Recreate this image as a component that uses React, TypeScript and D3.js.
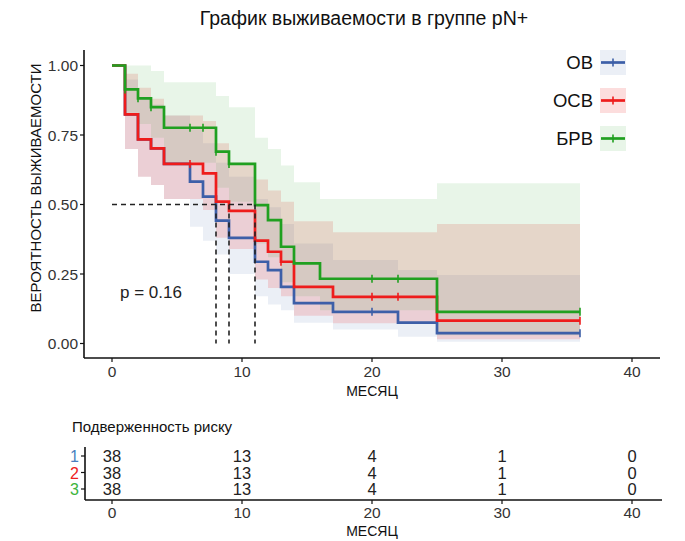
import React from 'react';
import * as d3 from 'd3';

// ---------- data ----------
const seriesNames = ['ОВ', 'ОСВ', 'БРВ'];
const seriesColors = ['#3D5FA8', '#EE1C1C', '#20A020'];
const rowLabelColors = ['#4A7FC0', '#EE2020', '#3CB43C'];

const ovTimes = [0, 1, 2, 3, 4, 6, 7, 8, 9, 11, 12, 13, 14, 17, 22, 25, 36];
const ovSurv = [1, 0.824, 0.734, 0.702, 0.646, 0.582, 0.528, 0.442, 0.38, 0.294, 0.264, 0.204, 0.145, 0.114, 0.075, 0.037, 0.037];
const ovUpper = [1, 0.95, 0.88, 0.86, 0.82, 0.77, 0.72, 0.65, 0.6, 0.52, 0.49, 0.43, 0.36, 0.3, 0.264, 0.246, 0.246];
const ovLower = [1, 0.7, 0.6, 0.57, 0.52, 0.42, 0.37, 0.32, 0.25, 0.17, 0.14, 0.12, 0.075, 0.05, 0.024, 0.006, 0.006];
const ovCensor = [20, 36];

const osvTimes = [0, 1, 2, 3, 4, 7, 8, 9, 11, 12, 13, 14, 17, 25, 36];
const osvSurv = [1, 0.824, 0.734, 0.702, 0.646, 0.612, 0.51, 0.477, 0.37, 0.33, 0.294, 0.204, 0.168, 0.082, 0.082];
const osvUpper = [1, 0.97, 0.92, 0.88, 0.82, 0.8, 0.72, 0.65, 0.59, 0.55, 0.51, 0.44, 0.4, 0.43, 0.43];
const osvLower = [1, 0.7, 0.6, 0.57, 0.52, 0.48, 0.38, 0.34, 0.23, 0.2, 0.17, 0.1, 0.073, 0.015, 0.015];
const osvCensor = [6, 13, 20, 22, 36];

const brvTimes = [0, 1, 2, 3, 4, 8, 9, 11, 12, 13, 14, 16, 25, 36];
const brvSurv = [1, 0.914, 0.882, 0.85, 0.776, 0.69, 0.646, 0.498, 0.444, 0.348, 0.288, 0.233, 0.114, 0.114];
const brvUpper = [1, 1, 1, 0.98, 0.94, 0.89, 0.85, 0.74, 0.7, 0.64, 0.58, 0.52, 0.576, 0.576];
const brvLower = [1, 0.83, 0.79, 0.74, 0.65, 0.56, 0.51, 0.36, 0.31, 0.22, 0.17, 0.12, 0.03, 0.03];
const brvCensor = [1, 2, 3, 6, 7, 8, 9, 20, 22, 36];

const xTicks = [0, 10, 20, 30, 40];
const yTicks = [0, 0.25, 0.5, 0.75, 1];
const yTickLabels = ['0.00', '0.25', '0.50', '0.75', '1.00'];
const medianTimes = [8, 9, 11];
const medianLevel = 0.5;
const pValueText = 'p = 0.16';

const riskTimes = [0, 10, 20, 30, 40];
const riskOV = [38, 13, 4, 1, 0];
const riskOSV = [38, 13, 4, 1, 0];
const riskBRV = [38, 13, 4, 1, 0];
const riskRowLabels = ['1', '2', '3'];

const titleText = 'График выживаемости в группе pN+';
const yLabel = 'ВЕРОЯТНОСТЬ ВЫЖИВАЕМОСТИ';
const xLabel = 'МЕСЯЦ';
const riskTitle = 'Подверженность риску';

const FONT = "'Liberation Sans', Arial, Helvetica, sans-serif";

const series = [
  { name: seriesNames[0], color: seriesColors[0], times: ovTimes, surv: ovSurv, upper: ovUpper, lower: ovLower, censor: ovCensor, alpha: 0.1 },
  { name: seriesNames[1], color: seriesColors[1], times: osvTimes, surv: osvSurv, upper: osvUpper, lower: osvLower, censor: osvCensor, alpha: 0.15 },
  { name: seriesNames[2], color: seriesColors[2], times: brvTimes, surv: brvSurv, upper: brvUpper, lower: brvLower, censor: brvCensor, alpha: 0.1 },
];
const riskRows = [riskOV, riskOSV, riskBRV];

export default function App() {
  const x = d3.scaleLinear().domain([0, 40]).range([112, 632]);
  const y = d3.scaleLinear().domain([0, 1]).range([343.5, 65.5]);

  const axisX0 = 84;
  const axisY = 358;
  const axisXEnd = 660;

  const tblAxisX = 85;
  const tblAxisY = 500;
  const rowBaselines = [462, 478.5, 495];

  const stepValue = (times: number[], vals: number[], t: number) => {
    const i = d3.bisectRight(times, t) - 1;
    return vals[Math.max(0, i)];
  };

  return (
    <svg width={685} height={541} style={{ position: 'absolute', left: 0, top: 0, background: '#fff' }} fontFamily={FONT}>
      <rect x={0} y={0} width={685} height={541} fill="#fff" />
      {/* title */}
      <text x={364} y={25} fontSize={19.5} textAnchor="middle" fill="#111">{titleText}</text>

      {/* bands */}
      {series.map((s) => {
        const idx = s.times.map((_, i) => i);
        const area = d3.area<number>()
          .x((i) => x(s.times[i]))
          .y0((i) => y(s.lower[i]))
          .y1((i) => y(s.upper[i]))
          .curve(d3.curveStepAfter);
        return <path key={'b' + s.name} d={area(idx) || ''} fill={s.color} fillOpacity={s.alpha} stroke="none" />;
      })}

      {/* survival lines */}
      {series.map((s) => {
        const idx = s.times.map((_, i) => i);
        const line = d3.line<number>()
          .x((i) => x(s.times[i]))
          .y((i) => y(s.surv[i]))
          .curve(d3.curveStepAfter);
        return (
          <g key={'l' + s.name}>
            <path d={line(idx) || ''} fill="none" stroke={s.color} strokeWidth={2.7} />
            {s.censor.map((c) => (
              <line key={c} x1={x(c)} x2={x(c)} y1={y(stepValue(s.times, s.surv, c)) - 4} y2={y(stepValue(s.times, s.surv, c)) + 4} stroke={s.color} strokeWidth={1.6} />
            ))}
          </g>
        );
      })}

      {/* median lines */}
      <line x1={x(0)} x2={x(d3.max(medianTimes) as number)} y1={y(medianLevel)} y2={y(medianLevel)} stroke="#222" strokeWidth={1.4} strokeDasharray="5,4" />
      {medianTimes.map((t) => (
        <line key={'m' + t} x1={x(t)} x2={x(t)} y1={y(medianLevel)} y2={y(0)} stroke="#222" strokeWidth={1.6} strokeDasharray="5,4" />
      ))}

      {/* p value */}
      <text x={120} y={298} fontSize={17} fill="#222">{pValueText}</text>

      {/* axes main */}
      <line x1={axisX0} x2={axisX0} y1={50} y2={axisY} stroke="#111" strokeWidth={1.6} />
      <line x1={axisX0} x2={axisXEnd} y1={axisY} y2={axisY} stroke="#111" strokeWidth={1.6} />
      {yTicks.map((v, i) => (
        <g key={'yt' + v}>
          <line x1={axisX0 - 4} x2={axisX0} y1={y(v)} y2={y(v)} stroke="#111" strokeWidth={1.2} />
          <text x={axisX0 - 6} y={y(v) + 5.5} fontSize={15.5} textAnchor="end" fill="#333">{yTickLabels[i]}</text>
        </g>
      ))}
      {xTicks.map((v) => (
        <g key={'xt' + v}>
          <line x1={x(v)} x2={x(v)} y1={axisY} y2={axisY + 4} stroke="#111" strokeWidth={1.2} />
          <text x={x(v)} y={377} fontSize={15.5} textAnchor="middle" fill="#333">{v}</text>
        </g>
      ))}
      <text x={372} y={396} fontSize={14} textAnchor="middle" fill="#111">{xLabel}</text>
      <text transform={`translate(41,188) rotate(-90)`} fontSize={15} textAnchor="middle" fill="#111">{yLabel}</text>

      {/* legend */}
      {series.map((s, i) => {
        const cy = 62.5 + i * 38;
        return (
          <g key={'lg' + s.name}>
            <rect x={600} y={cy - 12.5} width={26} height={25} fill={s.color} fillOpacity={s.alpha} />
            <line x1={601} x2={625} y1={cy} y2={cy} stroke={s.color} strokeWidth={2.7} />
            <line x1={613} x2={613} y1={cy - 4} y2={cy + 4} stroke={s.color} strokeWidth={1.6} />
            <text x={593} y={cy + 6.5} fontSize={18.5} textAnchor="end" fill="#111">{s.name}</text>
          </g>
        );
      })}

      {/* risk table */}
      <text x={72} y={432} fontSize={15} fill="#111">{riskTitle}</text>
      <line x1={tblAxisX} x2={tblAxisX} y1={447} y2={tblAxisY} stroke="#111" strokeWidth={1.6} />
      <line x1={tblAxisX} x2={662} y1={tblAxisY} y2={tblAxisY} stroke="#111" strokeWidth={1.6} />
      {riskRows.map((row, r) => (
        <g key={'rr' + r}>
          <line x1={tblAxisX - 4} x2={tblAxisX} y1={rowBaselines[r] - 6} y2={rowBaselines[r] - 6} stroke="#111" strokeWidth={1.2} />
          <text x={tblAxisX - 6} y={rowBaselines[r]} fontSize={16} textAnchor="end" fill={rowLabelColors[r]}>{riskRowLabels[r]}</text>
          {row.map((n, j) => (
            <text key={j} x={x(riskTimes[j])} y={rowBaselines[r]} fontSize={16.5} textAnchor="middle" fill="#222">{n}</text>
          ))}
        </g>
      ))}
      {xTicks.map((v) => (
        <g key={'txt' + v}>
          <line x1={x(v)} x2={x(v)} y1={tblAxisY} y2={tblAxisY + 4} stroke="#111" strokeWidth={1.2} />
          <text x={x(v)} y={518} fontSize={15.5} textAnchor="middle" fill="#333">{v}</text>
        </g>
      ))}
      <text x={372} y={536} fontSize={14} textAnchor="middle" fill="#111">{xLabel}</text>
    </svg>
  );
}
